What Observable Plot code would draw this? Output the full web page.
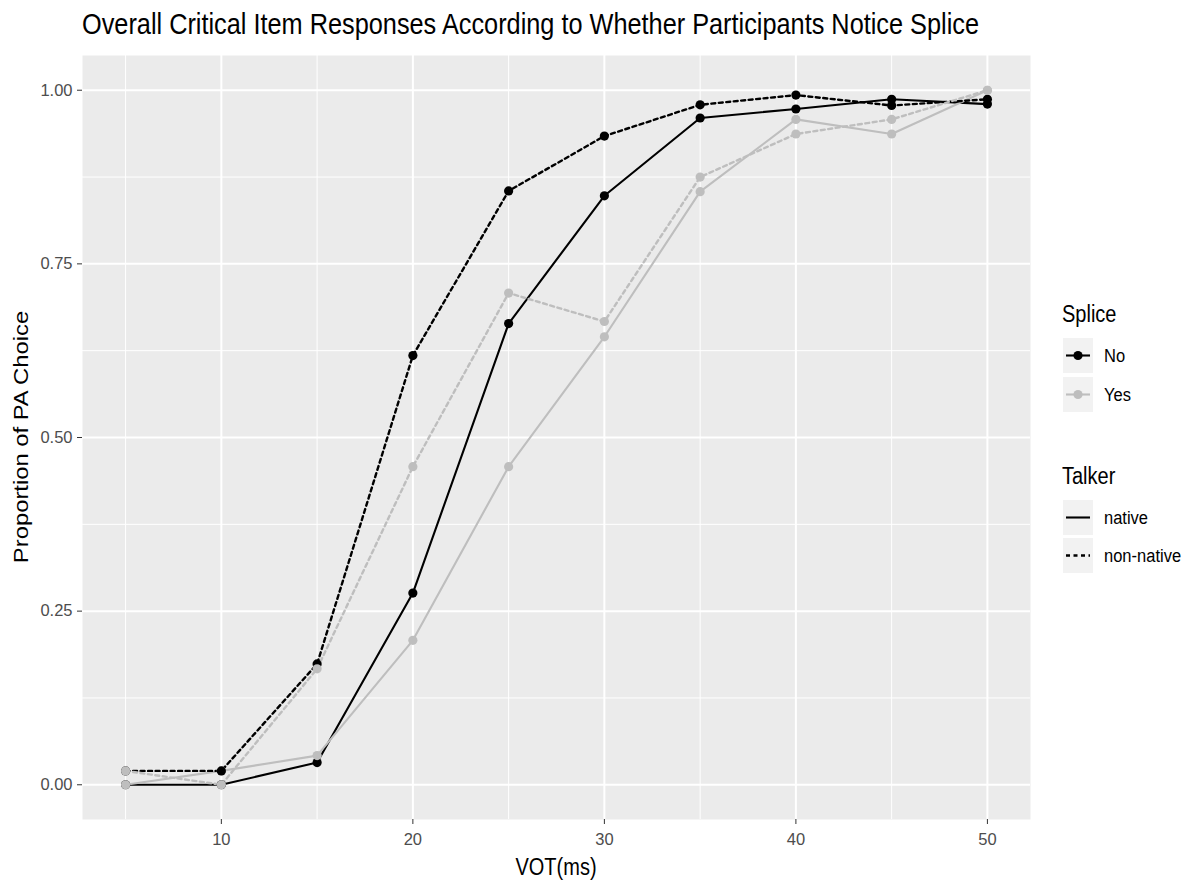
<!DOCTYPE html>
<html>
<head>
<meta charset="utf-8">
<script src="https://cdn.jsdelivr.net/npm/d3@7"></script>
<script src="https://cdn.jsdelivr.net/npm/@observablehq/plot@0.6"></script>
<style>
  html, body { margin: 0; padding: 0; background: white; }
  #wrap { position: relative; width: 1190px; height: 881px; overflow: hidden; font-family: "Liberation Sans", Arial, sans-serif; }
  #wrap svg.plot { position: absolute; left: 0; top: 0; }
  .t { position: absolute; white-space: nowrap; line-height: 1; }
</style>
</head>
<body>
<div id="wrap"></div>
<script>
// ---- data ----
const titleText = "Overall Critical Item Responses According to Whether Participants Notice Splice";
const xLabel = "VOT(ms)";
const yLabel = "Proportion of PA Choice";
const vot = [5, 10, 15, 20, 25, 30, 35, 40, 45, 50];
const noNative     = [0.000, 0.000, 0.032, 0.276, 0.664, 0.848, 0.960, 0.973, 0.987, 0.980];
const yesNative    = [0.000, 0.020, 0.042, 0.208, 0.458, 0.645, 0.854, 0.958, 0.937, 1.000];
const noNonNative  = [0.020, 0.020, 0.174, 0.618, 0.855, 0.934, 0.979, 0.993, 0.978, 0.987];
const yesNonNative = [0.020, 0.000, 0.167, 0.458, 0.708, 0.667, 0.875, 0.937, 0.958, 1.000];
const splices = ["No", "Yes"];
const spliceColors = ["#000000", "#bebebe"];
const talkers = ["native", "non-native"];
const talkerDash = ["none", "4,3.5"];
const xMajor = [10, 20, 30, 40, 50];
const xMinor = [5, 15, 25, 35, 45];
const yMajor = [0, 0.25, 0.5, 0.75, 1];
const yMinor = [0.125, 0.375, 0.625, 0.875];

const series = [
  {splice: "No",  talker: "native",     values: noNative},
  {splice: "Yes", talker: "native",     values: yesNative},
  {splice: "No",  talker: "non-native", values: noNonNative},
  {splice: "Yes", talker: "non-native", values: yesNonNative}
];
const rows = [];
for (const s of series) vot.forEach((v, i) => rows.push({vot: v, prop: s.values[i], splice: s.splice, talker: s.talker}));
const nativeRows = rows.filter(d => d.talker === "native");
const nonNativeRows = rows.filter(d => d.talker === "non-native");

const W = 1190, H = 881;
const plot = Plot.plot({
  width: W, height: H,
  marginLeft: 82, marginRight: 160, marginTop: 55, marginBottom: 62,
  x: {domain: [2.75, 52.25], label: null},
  y: {domain: [-0.05, 1.05], label: null},
  color: {domain: splices, range: spliceColors},
  style: {fontFamily: "'Liberation Sans', Arial, sans-serif", fontSize: "16.5px", background: "white"},
  marks: [
    Plot.frame({fill: "#ebebeb", stroke: "none"}),
    Plot.gridX(xMinor, {stroke: "white", strokeOpacity: 1, strokeWidth: 1}),
    Plot.gridY(yMinor, {stroke: "white", strokeOpacity: 1, strokeWidth: 1}),
    Plot.gridX(xMajor, {stroke: "white", strokeOpacity: 1, strokeWidth: 2}),
    Plot.gridY(yMajor, {stroke: "white", strokeOpacity: 1, strokeWidth: 2}),
    Plot.axisX(xMajor, {tickSize: 5, tickPadding: 9, stroke: "#333333", fill: "#4d4d4d", fontSize: 16.5, label: null}),
    Plot.axisY(yMajor, {tickSize: 5, tickPadding: 5, stroke: "#333333", fill: "#4d4d4d", fontSize: 16.5, tickFormat: ".2f", label: null}),
    Plot.line(nativeRows, {x: "vot", y: "prop", z: "splice", stroke: "splice", strokeWidth: 2.1}),
    Plot.line(nonNativeRows, {x: "vot", y: "prop", z: "splice", stroke: "splice", strokeWidth: 2.4, strokeDasharray: talkerDash[1]}),
    Plot.dot(rows, {x: "vot", y: "prop", fill: "splice", r: 4.6, stroke: "none"})
  ]
});
plot.classList.add("plot");
const wrap = document.getElementById("wrap");
wrap.appendChild(plot);

// text helper: places text with a given baseline, optional vertical stretch
function addText(text, x, baseline, fs, {sy = 1, anchor = "start", color = "#000"} = {}) {
  const el = document.createElement("div");
  el.className = "t";
  el.textContent = text;
  el.style.fontSize = fs + "px";
  el.style.color = color;
  el.style.left = x + "px";
  const b = 0.8465 * fs;
  el.style.top = (baseline - b) + "px";
  el.style.transformOrigin = `0 ${b}px`;
  const tx = anchor === "middle" ? "translateX(-50%) " : "";
  el.style.transform = `${tx}scale(1, ${sy})`;
  wrap.appendChild(el);
  return el;
}

addText(titleText, 82, 34.3, 25.3, {sy: 1.2});
addText(xLabel, 556, 875, 20, {sy: 1.22, anchor: "middle"});

const yl = document.createElement("div");
yl.className = "t";
yl.textContent = yLabel;
yl.style.fontSize = "20px";
yl.style.left = "21px";
yl.style.top = "437px";
yl.style.transform = "translate(-50%,-50%) rotate(-90deg) scale(1.19,1)";
wrap.appendChild(yl);

// legend
function keyBox(top, {color = "#000", dash = "none", point = false}) {
  const ns = "http://www.w3.org/2000/svg";
  const s = document.createElementNS(ns, "svg");
  s.setAttribute("width", 30); s.setAttribute("height", 35);
  s.style.position = "absolute"; s.style.left = "1063px"; s.style.top = top + "px";
  const r = document.createElementNS(ns, "rect");
  r.setAttribute("width", 30); r.setAttribute("height", 35); r.setAttribute("fill", "#f2f2f2");
  s.appendChild(r);
  const l = document.createElementNS(ns, "line");
  l.setAttribute("x1", 3); l.setAttribute("x2", 27); l.setAttribute("y1", 17.5); l.setAttribute("y2", 17.5);
  l.setAttribute("stroke", color); l.setAttribute("stroke-width", dash !== "none" ? 2.4 : 2.1);
  if (dash !== "none") l.setAttribute("stroke-dasharray", dash);
  s.appendChild(l);
  if (point) {
    const c = document.createElementNS(ns, "circle");
    c.setAttribute("cx", 15); c.setAttribute("cy", 17.5); c.setAttribute("r", 4.6); c.setAttribute("fill", color);
    s.appendChild(c);
  }
  wrap.appendChild(s);
}

addText("Splice", 1062, 321.7, 20, {sy: 1.15});
const spliceTops = [338, 377];
splices.forEach((s, i) => {
  keyBox(spliceTops[i], {color: spliceColors[i], point: true});
  addText(s, 1104, spliceTops[i] + 17.5 + 6, 16.5, {sy: 1.1});
});
addText("Talker", 1062, 484, 20, {sy: 1.15});
const talkerTops = [500, 538];
talkers.forEach((t, i) => {
  keyBox(talkerTops[i], {color: "#000", dash: talkerDash[i]});
  addText(t, 1104, talkerTops[i] + 17.5 + 6, 16.5, {sy: 1.1});
});
</script>
</body>
</html>
